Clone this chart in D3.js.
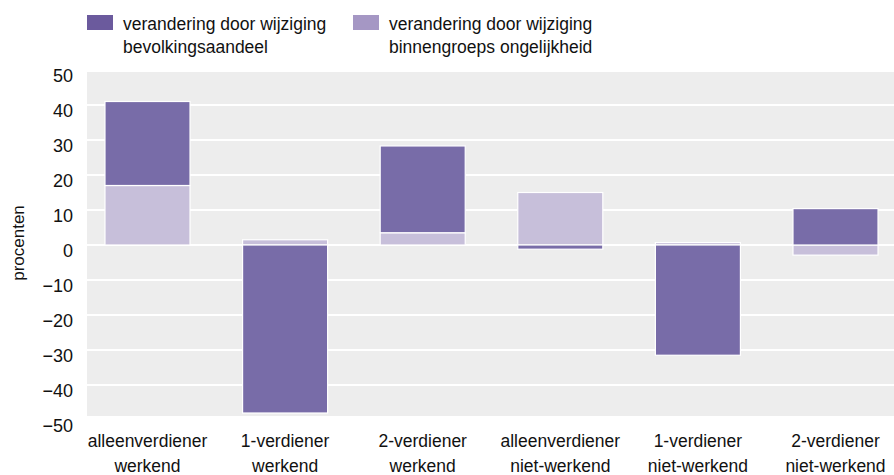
<!DOCTYPE html>
<head>
    <meta charset="utf-8">
    <style type="text/css">
    body { margin: 0; background: #fff; }
    svg text { font-family: "Liberation Sans", Arial, sans-serif; fill: #111; }
    </style>
</head>
<body>
    <div id="my_dataviz"></div>

    <script src="https://d3js.org/d3.v7.min.js"></script>
    <script type="text/javascript">

    // data (procenten)
    var categories = [
      ["alleenverdiener", "werkend"],
      ["1-verdiener", "werkend"],
      ["2-verdiener", "werkend"],
      ["alleenverdiener", "niet-werkend"],
      ["1-verdiener", "niet-werkend"],
      ["2-verdiener", "niet-werkend"]
    ];
    var bevolkingsaandeel = [24, -48, 24.8, -1.2, -31.5, 10.4];
    var binnengroeps = [17, 1.5, 3.5, 15, 0.7, -2.9];
    var yTicks = [50, 40, 30, 20, 10, 0, -10, -20, -30, -40, -50];
    var legendLabels = [
      ["verandering door wijziging", "bevolkingsaandeel"],
      ["verandering door wijziging", "binnengroeps ongelijkheid"]
    ];

    var W = 894, H = 475;
    var plot = {left: 87, right: 894, top: 72, bottom: 416};

    var svg = d3.select("#my_dataviz")
      .append("svg")
        .attr("width", W)
        .attr("height", H);

    // y scale: 0 at 245, 35px per 10
    var y = d3.scaleLinear()
      .domain([-50, 50])
      .range([420, 70]);

    var keys = ["binnen", "bevolking"];
    var rows = categories.map(function(c, i) {
      return {cat: i, binnen: binnengroeps[i], bevolking: bevolkingsaandeel[i]};
    });

    var x = d3.scaleBand()
      .domain(d3.range(categories.length))
      .range([78.7, 904.3])
      .paddingInner(0.382)
      .paddingOuter(0.191);

    var barColor = {bevolking: "#786ca8", binnen: "#c7bfda"};
    var legendColor = ["#6b5a9d", "#a597c4"];

    // background
    svg.append("rect")
      .attr("x", plot.left)
      .attr("y", plot.top)
      .attr("width", plot.right - plot.left)
      .attr("height", plot.bottom - plot.top)
      .attr("fill", "#ededed");

    // gridlines
    svg.append("g")
      .selectAll("line")
      .data(yTicks.filter(function(t) { return y(t) > plot.top && y(t) < plot.bottom; }))
      .enter()
      .append("line")
        .attr("x1", plot.left)
        .attr("x2", plot.right)
        .attr("y1", function(d) { return Math.round(y(d)); })
        .attr("y2", function(d) { return Math.round(y(d)); })
        .attr("stroke", "#fff")
        .attr("stroke-width", 2);

    // y tick labels (sit a bit below their gridline)
    var yAxis = svg.append("g")
      .attr("transform", "translate(73,6)")
      .call(d3.axisLeft(y).tickValues(yTicks).tickSize(0).tickPadding(0));
    yAxis.attr("font-family", null);
    yAxis.select(".domain").remove();
    yAxis.selectAll("text")
      .style("font-size", "18px")
      .attr("fill", "#111");

    svg.append("text")
      .attr("transform", "translate(24,243) rotate(-90)")
      .attr("text-anchor", "middle")
      .style("font-size", "17px")
      .text("procenten");

    // stacked bars
    var series = d3.stack()
      .keys(keys)
      .offset(d3.stackOffsetDiverging)(rows);

    svg.append("g")
      .selectAll("g")
      .data(series)
      .enter()
      .append("g")
        .attr("fill", function(d) { return barColor[d.key]; })
      .selectAll("rect")
      .data(function(d) { return d; })
      .enter()
      .append("rect")
        .attr("x", function(d) { return x(d.data.cat); })
        .attr("width", x.bandwidth())
        .attr("y", function(d) { return y(Math.max(d[0], d[1])); })
        .attr("height", function(d) { return Math.abs(y(d[0]) - y(d[1])); })
        .attr("stroke", "#fff")
        .attr("stroke-width", 1.2);

    // category labels
    var xl = svg.append("g")
      .selectAll("text")
      .data(categories)
      .enter()
      .append("text")
        .attr("x", function(d, i) { return x(i) + x.bandwidth() / 2; })
        .attr("y", 447)
        .attr("text-anchor", "middle")
        .style("font-size", "17.5px");
    xl.append("tspan")
      .attr("x", function(d, i) { return x(i) + x.bandwidth() / 2; })
      .text(function(d) { return d[0]; });
    xl.append("tspan")
      .attr("x", function(d, i) { return x(i) + x.bandwidth() / 2; })
      .attr("dy", 25)
      .text(function(d) { return d[1]; });

    // legend
    var legendX = [87, 353];
    var lg = svg.append("g")
      .selectAll("g")
      .data(legendLabels)
      .enter()
      .append("g")
        .attr("transform", function(d, i) { return "translate(" + legendX[i] + ",0)"; });
    lg.append("rect")
      .attr("x", 0)
      .attr("y", 15)
      .attr("width", 26)
      .attr("height", 15)
      .attr("fill", function(d, i) { return legendColor[i]; });
    var lt = lg.append("text")
      .attr("x", 36)
      .attr("y", 30)
      .style("font-size", "17.5px");
    lt.append("tspan")
      .attr("x", 36)
      .text(function(d) { return d[0]; });
    lt.append("tspan")
      .attr("x", 36)
      .attr("dy", 23)
      .text(function(d) { return d[1]; });

    </script>
</body>
